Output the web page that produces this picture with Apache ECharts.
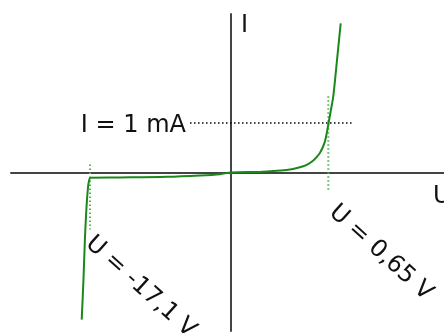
<!DOCTYPE html>
<html>
<head>
<meta charset="utf-8">
<script src="https://cdn.jsdelivr.net/npm/echarts@6/dist/echarts.min.js"></script>
<style>
  html, body { margin: 0; padding: 0; background: #fff; }
  #diode { width: 444px; height: 333px; }
</style>
</head>
<body>
<div id="diode"></div>
<script>
// diode characteristic, schematic units (x not to scale, y in mA)
const curveU = [-14.93, -14.75, -14.6, -14.45, -14.3, -14.2, -14.05, -11.1, -6.4, -3.1, -1.1, 0,
  2.9, 3.9, 4.9, 5.9, 6.6, 7.23, 7.8, 8.23, 8.6, 8.9, 9.2, 9.4, 9.6, 9.73, 10.0, 10.23, 10.6, 10.97];
const curveI = [-2.97, -2.15, -1.3, -0.7, -0.3, -0.17, -0.105, -0.1, -0.087, -0.06, -0.034, 0,
  0.012, 0.026, 0.04, 0.06, 0.09, 0.127, 0.18, 0.24, 0.32, 0.4, 0.52, 0.63, 0.82, 0.97, 1.27, 1.54, 2.27, 3.01];

const refCurrent = 1;          // I = 1 mA
const refRange = [-4.1, 12.1];  // extent of the dotted I line
const forwardU = 9.73;         // U = 0,65 V
const forwardSpan = [1.54, -0.4];
const breakdownU = -14.1;      // U = -17,1 V
const breakdownSpan = [0.16, -1.15];

const labels = ['I = 1 mA', 'U = 0,65 V', 'U = -17,1 V'];

var dom = document.getElementById('diode');
var myChart = echarts.init(dom, null, { renderer: 'canvas' });

const font = 'DejaVu Sans';
const axisColor = '#444';
const textColor = '#111';

var curve = curveU.map(function (u, i) { return [u, curveI[i]]; });

var option = {
  animation: false,
  backgroundColor: '#fff',
  grid: { left: 11, right: 0, top: 14, bottom: 2, outerBoundsMode: 'none', containLabel: false },
  xAxis: {
    type: 'value',
    min: -22,
    max: 21.3,
    name: 'U',
    nameLocation: 'end',
    nameGap: -11,
    nameTextStyle: {
      fontFamily: font, fontSize: 24, color: textColor,
      align: 'left', verticalAlign: 'top', padding: [12, 0, 0, 0]
    },
    axisLine: { onZero: true, lineStyle: { color: axisColor, width: 2 } },
    axisTick: { show: false },
    axisLabel: { show: false },
    splitLine: { show: false }
  },
  yAxis: {
    type: 'value',
    min: -3.2,
    max: 3.2,
    name: 'I',
    nameLocation: 'end',
    nameGap: 0,
    nameTextStyle: {
      fontFamily: font, fontSize: 24, color: textColor,
      align: 'left', verticalAlign: 'top', padding: [0, 0, 0, 10]
    },
    axisLine: { onZero: true, lineStyle: { color: axisColor, width: 2 } },
    axisTick: { show: false },
    axisLabel: { show: false },
    splitLine: { show: false }
  },
  series: [
    {
      type: 'line',
      data: [[refRange[0], refCurrent], [refRange[1], refCurrent]],
      symbol: 'none',
      lineStyle: { color: '#000', width: 1.5, type: [1.5, 2.5] },
      silent: true
    },
    {
      type: 'line',
      data: [[forwardU, forwardSpan[0]], [forwardU, forwardSpan[1]]],
      symbol: 'none',
      lineStyle: { color: '#55b455', width: 2, type: [1.5, 2.5] },
      silent: true
    },
    {
      type: 'line',
      data: [[breakdownU, breakdownSpan[0]], [breakdownU, breakdownSpan[1]]],
      symbol: 'none',
      lineStyle: { color: '#55b455', width: 2, type: [1.5, 2.5] },
      silent: true
    },
    {
      type: 'line',
      data: curve,
      symbol: 'none',
      smooth: 0.3,
      lineStyle: { color: '#1a881a', width: 2 },
      silent: true
    },
    {
      type: 'scatter',
      symbolSize: 0,
      silent: true,
      itemStyle: { opacity: 1 },
      label: {
        show: true,
        fontFamily: font,
        fontSize: 24,
        color: textColor,
        opacity: 1,
        formatter: function (p) { return p.name; }
      },
      data: [
        {
          name: labels[0], value: [refRange[0], refCurrent],
          label: { position: 'left', distance: 4, offset: [0, 3] }
        },
        {
          name: labels[1], value: [forwardU + 0.4, -0.74],
          label: { position: [0, 0], align: 'left', verticalAlign: 'middle', rotate: -42 }
        },
        {
          name: labels[2], value: [breakdownU - 0.1, -1.37],
          label: { position: [0, 0], align: 'left', verticalAlign: 'middle', rotate: -42 }
        }
      ]
    }
  ]
};

myChart.setOption(option);
window.addEventListener('resize', myChart.resize);
</script>
</body>
</html>
